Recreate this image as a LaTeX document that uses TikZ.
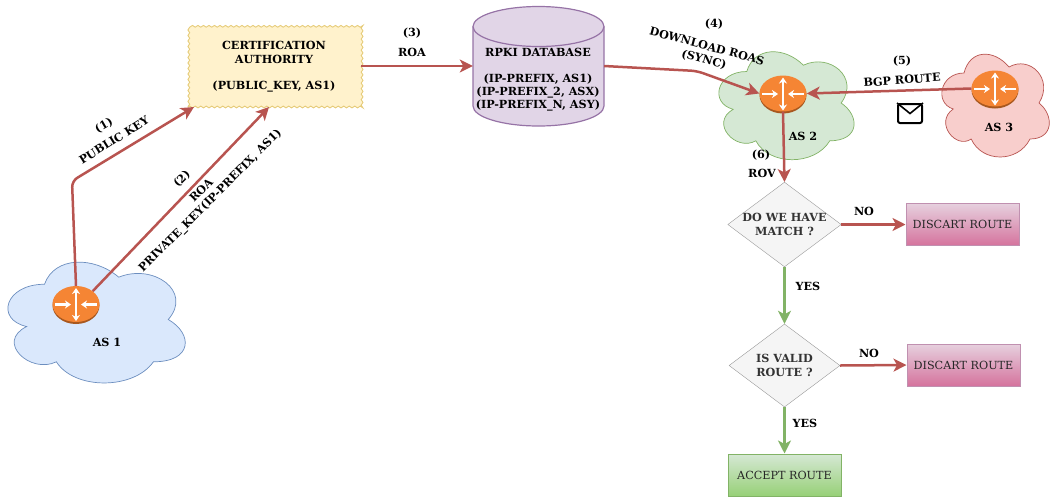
\documentclass[tikz,border=0pt]{standalone}
\usepackage{fontspec}
\setmainfont{DejaVu Serif}
\usetikzlibrary{arrows.meta,shapes.geometric,decorations.pathmorphing}

\definecolor{redline}{HTML}{B85450}
\definecolor{greenline}{HTML}{82B366}
\definecolor{routerfill}{HTML}{F58534}
\definecolor{routerdark}{HTML}{A8581F}
\definecolor{cafill}{HTML}{FFF2CC}
\definecolor{cadraw}{HTML}{E6CC7A}
\definecolor{dbfill}{HTML}{E1D5E7}
\definecolor{dbdraw}{HTML}{9673A6}
\definecolor{discardtop}{HTML}{E6D0DE}
\definecolor{discardbottom}{HTML}{D5739D}
\definecolor{discarddraw}{HTML}{C090B0}
\definecolor{accepttop}{HTML}{D5E8D4}
\definecolor{acceptbottom}{HTML}{97D077}

\newcommand{\cloudpath}{(.25,.25) .. controls (.05,.25) and (0,.5) .. (.16,.55)
	.. controls (0,.66) and (.18,.89) .. (.31,.8)
	.. controls (.4,1) and (.7,1) .. (.8,.8)
	.. controls (1,.8) and (1,.6) .. (.875,.5)
	.. controls (1,.3) and (.8,.1) .. (.625,.2)
	.. controls (.5,.05) and (.3,.05) .. (.25,.25) -- cycle}

\tikzset{
	txt/.style={font=\fontsize{11.2}{13.5}\selectfont\bfseries, inner sep=0pt, align=center},
	plain/.style={font=\fontsize{11.2}{13.5}\selectfont, text=black!85},
	redarrow/.style={draw=redline, line width=2.5pt, rounded corners=6pt, -{Stealth[length=13pt,width=13pt,inset=3.5pt]}},
	greenarrow/.style={draw=greenline, line width=2.5pt, -{Stealth[length=13pt,width=13pt,inset=3.5pt]}},
	decision/.style={diamond, draw=black!40, fill=black!4, minimum width=111pt, minimum height=83pt, inner sep=0pt, aspect=1.34, txt, text=black!80},
	discard/.style={draw=discarddraw, line width=1pt, top color=discardtop, bottom color=discardbottom, minimum width=113pt, minimum height=42pt, inner sep=0pt, plain},
	accept/.style={draw=greenline, line width=1pt, top color=accepttop, bottom color=acceptbottom, minimum width=113pt, minimum height=42pt, inner sep=0pt, plain},
}

\begin{document}
\begin{tikzpicture}[x=1pt, y=-1pt]
	\useasboundingbox (0, 0) rectangle (1050, 496);

	% clouds
	\foreach \x/\y/\w/\h/\f/\d in {-5/249/198/141/DAE8FC/6C8EBF, 709/40/151/126/D5E8D4/82B366, 934/43/120/120/F8CECC/B85450}{
			\definecolor{cloudfill}{HTML}{\f}
			\definecolor{clouddraw}{HTML}{\d}
			\begin{scope}[shift={(\x, \y)}, x=\w pt, y=-\h pt]
				\draw[draw=clouddraw, fill=cloudfill, line width=0.7pt] \cloudpath;
			\end{scope}
		}

	% routers
	\foreach \r/\x/\y in {routerone/76/304.5, routertwo/783/94, routerthree/995/89}{
			\fill[routerdark] (\x, \y + 1) ellipse [x radius=23.5, y radius=18.5];
			\node (\r) [ellipse, fill=routerfill, minimum width=47pt, minimum height=36pt, inner sep=0pt] at (\x, \y - 0.5) {};
			\begin{scope}[shift={(\x, \y)}, white, line width=2.6pt, -{Stealth[length=6pt,width=8pt]}]
				\draw (0, 0) -- (0, -16.5);
				\draw (0, 0) -- (0, 16.5);
				\draw (-21, 0) -- (-5, 0);
				\draw (21, 0) -- (5, 0);
			\end{scope}
		}

	% boxes
	\node (ca) [draw=cadraw, fill=cafill, line width=0.9pt, decorate, decoration={snake, segment length=5.5pt, amplitude=0.9pt}, minimum width=173pt, minimum height=82pt, inner sep=0pt] at (274.5, 66) {};
	\node [txt] at (274, 45) {CERTIFICATION};
	\node [txt] at (274, 59) {AUTHORITY};
	\node [txt] at (274, 87) {(PUBLIC\_KEY, AS1)};

	\draw[draw=dbdraw, fill=dbfill, line width=1.2pt] (473, 26.5) -- (473, 106) arc [start angle=180, end angle=0, x radius=65.5, y radius=20] -- (604, 26.5) arc [start angle=0, end angle=-180, x radius=65.5, y radius=20] -- cycle;
	\draw[draw=dbdraw, line width=1.2pt] (473, 26.5) arc [start angle=180, end angle=0, x radius=65.5, y radius=20];
	\node (db) [minimum width=131pt, minimum height=120pt, inner sep=0pt] at (538.5, 66) {};
	\node [txt] at (538, 52) {RPKI DATABASE};
	\node [txt] at (538, 79) {(IP-PREFIX, AS1)};
	\node [txt] at (538, 93) {(IP-PREFIX\_2, ASX)};
	\node [txt] at (538, 106) {(IP-PREFIX\_N, ASY)};

	\node (matchq) [decision] at (784.5, 224.5) {DO WE HAVE\\MATCH ?};
	\node (validq) [decision] at (784.5, 365.5) {IS VALID\\ROUTE ?};
	\node (discardone) [discard] at (962.5, 224.5) {DISCART ROUTE};
	\node (discardtwo) [discard] at (963.5, 365) {DISCART ROUTE};
	\node (acceptroute) [accept] at (784.5, 475) {ACCEPT ROUTE};

	\node (mail) [draw=black, fill=white, line width=2pt, rounded corners=2pt, minimum width=24pt, minimum height=19pt, inner sep=0pt] at (910, 113.5) {};
	\draw[line width=1.6pt] (mail.north west) -- (mail.center) -- (mail.north east);

	% connectors
	\coordinate (bendone) at (72, 181);
	\coordinate (bendfour) at (697, 71);
	\coordinate (tipone) at (194, 107);
	\coordinate (tiptwo) at (269, 107);
	\draw[redarrow] (routerone.north) -- (bendone) -- (tipone);
	\draw[redarrow] (routerone.north east) -- (tiptwo);
	\draw[redarrow] (ca.east) -- (db.west);
	\draw[redarrow] (db.east) -- (bendfour) -- (routertwo.west);
	\draw[redarrow] (routerthree.west) -- (routertwo.east);
	\draw[redarrow] (routertwo.south) -- (matchq.north);
	\draw[redarrow] (matchq.east) -- (discardone.west);
	\draw[redarrow] (validq.east) -- (discardtwo.west);
	\draw[greenarrow] (matchq.south) -- (validq.north);
	\draw[greenarrow] (validq.south) -- (acceptroute.north);

	% labels
	\node [txt, rotate=30] at (104, 126) {(1)};
	\node [txt, rotate=32] at (114, 140) {PUBLIC KEY};
	\node [txt, rotate=45] at (182, 179) {(2)};
	\node [txt, rotate=45] at (201, 190) {ROA};
	\node [txt, rotate=45] at (210.5, 201) {PRIVATE\_KEY(IP-PREFIX, AS1)};
	\node [txt] at (412, 33) {(3)};
	\node [txt] at (412, 52) {ROA};
	\node [txt] at (714, 24) {(4)};
	\node [txt, rotate=-15] at (707, 46) {DOWNLOAD ROAS};
	\node [txt, rotate=-15] at (704, 60) {(SYNC)};
	\node [txt] at (902, 61) {(5)};
	\node [txt, rotate=4] at (902, 80) {BGP ROUTE};
	\node [txt] at (761, 155) {(6)};
	\node [txt] at (762, 173) {ROV};
	\node [txt] at (107, 342) {AS 1};
	\node [txt] at (803, 136) {AS 2};
	\node [txt] at (999, 127) {AS 3};
	\node [txt] at (864, 211) {NO};
	\node [txt] at (808, 286) {YES};
	\node [txt] at (869, 353) {NO};
	\node [txt] at (805, 423) {YES};
\end{tikzpicture}
\end{document}
